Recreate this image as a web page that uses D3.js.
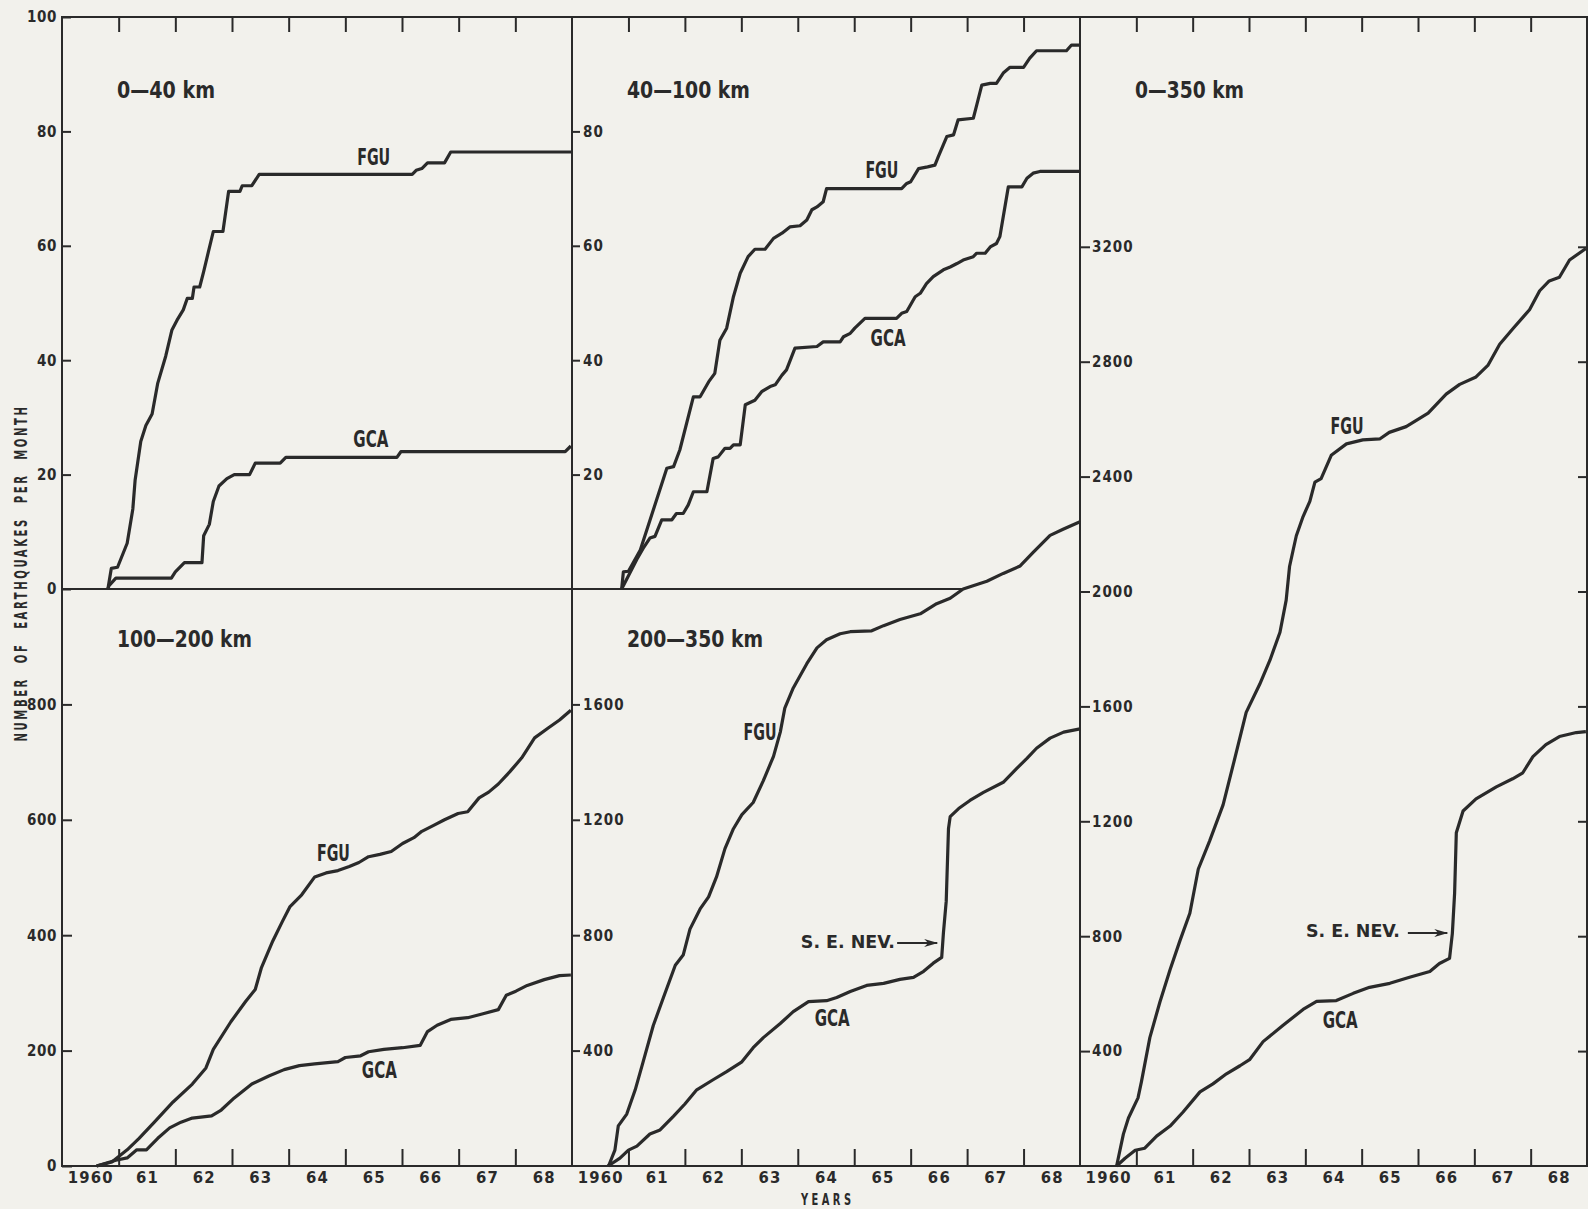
<!DOCTYPE html>
<html>
<head>
<meta charset="utf-8">
<script src="https://cdn.jsdelivr.net/npm/d3@7"></script>
<style>
  body { margin: 0; background: #f2f1ec; }
  svg { display: block; }
  text {
    font-family: 'DejaVu Sans Condensed', 'DejaVu Sans', sans-serif;
    font-weight: bold;
    fill: #2a2a2a;
  }
</style>
</head>
<body>
<div id="chart"></div>
<script>
const width = 1588
const height = 1209

// x-axis (years)
const yearDomain = [1959.5, 1968.5]
const yearTicks = [1960.5, 1961.5, 1962.5, 1963.5, 1964.5, 1965.5, 1966.5, 1967.5]
const yearLabelPos = [1960, 1961, 1962, 1963, 1964, 1965, 1966, 1967, 1968]
const yearLabels = ['1960', '61', '62', '63', '64', '65', '66', '67', '68']

// y tick values for each panel
const ticks0to40 = [0, 20, 40, 60, 80, 100]
const ticks40to100 = [20, 40, 60, 80]
const ticks100to200 = [0, 200, 400, 600, 800]
const ticks200to350 = [400, 800, 1200, 1600]
const ticks0to350 = [400, 800, 1200, 1600, 2000, 2400, 2800, 3200]

// cumulative counts, [year, number]
const fgu0to40 = [[1960.31, 0], [1960.37, 3.6], [1960.48, 3.8], [1960.65, 8], [1960.75, 14], [1960.79, 19], [1960.89, 25.8], [1960.98, 28.6], [1961.09, 30.6], [1961.19, 36], [1961.33, 40.7], [1961.44, 45.3], [1961.53, 47], [1961.64, 48.8], [1961.71, 50.8], [1961.80, 50.8], [1961.83, 52.8], [1961.93, 52.8], [1962.00, 55.5], [1962.08, 58.8], [1962.17, 62.5], [1962.34, 62.5], [1962.44, 69.5], [1962.64, 69.5], [1962.68, 70.5], [1962.85, 70.5], [1962.98, 72.5], [1965.68, 72.5], [1965.75, 73.2], [1965.85, 73.5], [1965.95, 74.5], [1966.25, 74.5], [1966.36, 76.4], [1968.5, 76.4]]
const gca0to40 = [[1960.31, 0], [1960.33, 0.6], [1960.45, 1.9], [1961.43, 1.9], [1961.50, 3], [1961.66, 4.6], [1961.97, 4.6], [1962.00, 9.3], [1962.10, 11.3], [1962.17, 15.3], [1962.27, 18], [1962.41, 19.3], [1962.54, 20], [1962.81, 20], [1962.91, 22], [1963.35, 22], [1963.45, 23], [1965.41, 23], [1965.48, 24], [1968.38, 24], [1968.48, 25]]

const fgu40to100 = [[1960.38, 0], [1960.41, 3], [1960.50, 3.1], [1960.71, 6.8], [1960.94, 13.8], [1961.18, 21.1], [1961.30, 21.4], [1961.41, 24.3], [1961.65, 33.6], [1961.77, 33.6], [1961.92, 36.2], [1962.03, 37.7], [1962.12, 43.5], [1962.24, 45.6], [1962.36, 51.1], [1962.48, 55.2], [1962.62, 58.1], [1962.74, 59.4], [1962.92, 59.4], [1963.07, 61.3], [1963.22, 62.2], [1963.36, 63.3], [1963.54, 63.5], [1963.66, 64.5], [1963.75, 66.3], [1963.84, 66.8], [1963.95, 67.7], [1964.01, 70], [1965.34, 70], [1965.43, 70.9], [1965.50, 71.2], [1965.64, 73.5], [1965.80, 73.8], [1965.93, 74.1], [1965.99, 75.6], [1966.14, 79.1], [1966.26, 79.4], [1966.34, 82], [1966.61, 82.3], [1966.67, 84.6], [1966.76, 88.1], [1966.91, 88.4], [1967.02, 88.4], [1967.14, 90.2], [1967.26, 91.2], [1967.50, 91.2], [1967.61, 92.8], [1967.73, 94.1], [1968.26, 94.1], [1968.35, 95.1], [1968.5, 95.1]]
const gca40to100 = [[1960.38, 0], [1960.65, 5.2], [1960.76, 7.1], [1960.88, 8.9], [1960.97, 9.2], [1961.09, 12.1], [1961.27, 12.1], [1961.35, 13.2], [1961.47, 13.2], [1961.56, 14.7], [1961.65, 17], [1961.89, 17], [1962.00, 22.8], [1962.09, 23.1], [1962.21, 24.6], [1962.30, 24.6], [1962.36, 25.2], [1962.48, 25.2], [1962.57, 32.2], [1962.74, 33], [1962.86, 34.5], [1963.01, 35.4], [1963.10, 35.7], [1963.22, 37.4], [1963.30, 38.3], [1963.45, 42.1], [1963.84, 42.4], [1963.95, 43.2], [1964.25, 43.2], [1964.31, 44.1], [1964.43, 44.7], [1964.51, 45.6], [1964.69, 47.3], [1965.25, 47.3], [1965.34, 48.2], [1965.43, 48.5], [1965.58, 51.1], [1965.67, 51.7], [1965.78, 53.4], [1965.90, 54.6], [1966.08, 55.8], [1966.20, 56.3], [1966.32, 56.9], [1966.43, 57.5], [1966.61, 58.1], [1966.67, 58.7], [1966.82, 58.7], [1966.91, 59.8], [1967.02, 60.4], [1967.08, 61.6], [1967.23, 70.3], [1967.47, 70.3], [1967.56, 71.8], [1967.67, 72.7], [1967.79, 73], [1968.5, 73]]

const fgu100to200 = [[1960.11, 0], [1960.38, 7], [1960.65, 28], [1960.86, 48], [1961.13, 76], [1961.46, 111], [1961.80, 142], [1962.04, 170], [1962.17, 202], [1962.48, 250], [1962.74, 285], [1962.91, 306], [1963.02, 344], [1963.22, 390], [1963.39, 424], [1963.52, 449], [1963.73, 470], [1963.96, 501], [1964.16, 508], [1964.37, 512], [1964.57, 519], [1964.74, 526], [1964.91, 536], [1965.11, 540], [1965.31, 545], [1965.51, 559], [1965.71, 569], [1965.85, 580], [1966.05, 590], [1966.25, 600], [1966.49, 611], [1966.66, 614], [1966.86, 638], [1967.03, 648], [1967.20, 662], [1967.40, 683], [1967.61, 707], [1967.84, 742], [1968.08, 759], [1968.28, 773], [1968.48, 790]]
const gca100to200 = [[1960.11, 0], [1960.45, 10], [1960.65, 14], [1960.82, 28], [1960.99, 28], [1961.19, 48], [1961.40, 66], [1961.60, 76], [1961.80, 83], [1962.14, 87], [1962.31, 97], [1962.54, 118], [1962.85, 142], [1963.15, 156], [1963.42, 167], [1963.69, 174], [1963.96, 177], [1964.37, 181], [1964.50, 188], [1964.77, 191], [1964.91, 198], [1965.18, 202], [1965.51, 205], [1965.82, 209], [1965.95, 233], [1966.12, 244], [1966.36, 254], [1966.66, 257], [1966.93, 264], [1967.20, 271], [1967.34, 296], [1967.51, 303], [1967.71, 313], [1968.01, 323], [1968.28, 330], [1968.48, 331]]

const fgu200to350 = [[1960.14, 0], [1960.16, 6], [1960.26, 55], [1960.32, 139], [1960.47, 180], [1960.62, 264], [1960.76, 361], [1960.94, 487], [1961.12, 584], [1961.33, 696], [1961.47, 731], [1961.59, 821], [1961.77, 891], [1961.92, 933], [1962.06, 1002], [1962.21, 1100], [1962.36, 1169], [1962.51, 1218], [1962.71, 1260], [1962.89, 1336], [1963.07, 1420], [1963.19, 1504], [1963.27, 1587], [1963.42, 1657], [1963.66, 1741], [1963.84, 1796], [1964.01, 1824], [1964.25, 1845], [1964.43, 1852], [1964.81, 1855], [1965.02, 1873], [1965.31, 1894], [1965.67, 1914], [1965.96, 1949], [1966.20, 1968], [1966.43, 2000], [1966.85, 2027], [1967.14, 2054], [1967.44, 2080], [1967.67, 2127], [1967.97, 2186], [1968.20, 2207], [1968.5, 2233]]
const gca200to350 = [[1960.14, 0], [1960.35, 27], [1960.50, 55], [1960.65, 69], [1960.88, 111], [1961.06, 125], [1961.30, 173], [1961.50, 215], [1961.71, 264], [1962.00, 299], [1962.24, 327], [1962.51, 361], [1962.71, 410], [1962.89, 445], [1963.19, 494], [1963.42, 535], [1963.69, 570], [1964.01, 573], [1964.19, 584], [1964.43, 605], [1964.72, 626], [1965.02, 633], [1965.31, 647], [1965.55, 654], [1965.73, 675], [1965.90, 703], [1966.05, 723], [1966.08, 807], [1966.13, 918], [1966.17, 1169], [1966.20, 1211], [1966.35, 1239], [1966.55, 1267], [1966.79, 1295], [1967.14, 1330], [1967.38, 1378], [1967.56, 1413], [1967.73, 1448], [1967.97, 1483], [1968.21, 1504], [1968.5, 1515]]

const fgu0to350 = [[1960.15, 0], [1960.27, 111], [1960.36, 167], [1960.53, 237], [1960.59, 293], [1960.74, 447], [1960.92, 572], [1961.10, 684], [1961.27, 782], [1961.45, 880], [1961.60, 1034], [1961.80, 1131], [1962.04, 1257], [1962.22, 1397], [1962.45, 1579], [1962.69, 1677], [1962.87, 1760], [1963.05, 1858], [1963.16, 1970], [1963.22, 2087], [1963.28, 2141], [1963.34, 2194], [1963.46, 2261], [1963.58, 2314], [1963.67, 2381], [1963.78, 2393], [1963.96, 2474], [1964.23, 2514], [1964.52, 2528], [1964.82, 2531], [1964.99, 2554], [1965.29, 2574], [1965.68, 2621], [1966.00, 2687], [1966.24, 2721], [1966.53, 2747], [1966.74, 2787], [1966.95, 2861], [1967.18, 2914], [1967.48, 2981], [1967.66, 3047], [1967.83, 3081], [1968.01, 3094], [1968.19, 3154], [1968.48, 3194]]
const gca0to350 = [[1960.15, 0], [1960.30, 27], [1960.48, 55], [1960.65, 62], [1960.86, 104], [1961.10, 139], [1961.33, 188], [1961.63, 258], [1961.86, 286], [1962.10, 321], [1962.34, 349], [1962.51, 370], [1962.75, 433], [1963.10, 489], [1963.46, 545], [1963.70, 573], [1964.05, 576], [1964.35, 601], [1964.64, 622], [1965.00, 636], [1965.35, 657], [1965.71, 677], [1965.88, 705], [1966.06, 723], [1966.11, 810], [1966.15, 950], [1966.18, 1160], [1966.30, 1236], [1966.53, 1278], [1966.89, 1320], [1967.18, 1348], [1967.36, 1369], [1967.54, 1425], [1967.77, 1467], [1968.01, 1495], [1968.31, 1509], [1968.48, 1512]]

// ---- layout ----
const colX = [62, 572, 1080, 1587]
const rowY = [17, 589, 1166]
const ink = '#2a2a2a'

const svg = d3
  .select('#chart')
  .append('svg')
  .attr('width', width)
  .attr('height', height)

svg.append('rect').attr('width', width).attr('height', height).attr('fill', '#f2f1ec')

svg
  .append('defs')
  .append('marker')
  .attr('id', 'arrow')
  .attr('viewBox', '0 0 14 8')
  .attr('refX', 13)
  .attr('refY', 4)
  .attr('markerWidth', 14)
  .attr('markerHeight', 8)
  .attr('markerUnits', 'userSpaceOnUse')
  .attr('orient', 'auto')
  .append('path')
  .attr('d', 'M0,0 L14,4 L0,8 L4,4 Z')
  .attr('fill', ink)

// the lettering of the original is tall and narrow, so labels get a fixed length
function label(sel, x, y, str, size, len, anchor = 'start') {
  return sel.append('text')
    .attr('x', x)
    .attr('y', y)
    .attr('font-size', size)
    .attr('text-anchor', anchor)
    .attr('textLength', len)
    .attr('lengthAdjust', 'spacingAndGlyphs')
    .text(str)
}

const panels = [
  { title: '0—40 km', titleLen: 98, col: 0, top: rowY[0], bottom: rowY[1], max: 100, fgu: fgu0to40, gca: gca0to40,
    fguLabel: [1965.0, 74.1], gcaLabel: [1964.95, 24.8] },
  { title: '40—100 km', titleLen: 123, col: 1, top: rowY[0], bottom: rowY[1], max: 100, fgu: fgu40to100, gca: gca40to100,
    fguLabel: [1964.99, 71.9], gcaLabel: [1965.1, 42.5] },
  { title: '0—350 km', titleLen: 109, col: 2, top: rowY[0], bottom: rowY[2], max: 4000, fgu: fgu0to350, gca: gca0to350,
    fguLabel: [1964.24, 2548], gcaLabel: [1964.12, 480], nev: { text: [1965.18, 797], from: [1965.32, 811], to: [1966.02, 811] } },
  { title: '100—200 km', titleLen: 135, col: 0, top: rowY[1], bottom: rowY[2], max: 1000, fgu: fgu100to200, gca: gca100to200,
    fguLabel: [1964.29, 529], gcaLabel: [1965.1, 152] },
  { title: '200—350 km', titleLen: 136, col: 1, top: rowY[1], bottom: rowY[2], max: 2000, fgu: fgu200to350, gca: gca200to350,
    fguLabel: [1962.83, 1477], gcaLabel: [1964.11, 485], nev: { text: [1965.22, 756], from: [1965.26, 773], to: [1965.97, 773] } }
]

panels.forEach(p => {
  p.x = d3.scaleLinear().domain(yearDomain).range([colX[p.col], colX[p.col + 1]])
  p.y = d3.scaleLinear().domain([0, p.max]).range([p.bottom, p.top])
})

function styleAxis(g, size, spacing) {
  g.attr('font-size', size).attr('color', ink)
  g.select('.domain').remove()
  g.selectAll('line').attr('stroke-width', 2)
  g.selectAll('text').attr('letter-spacing', spacing)
}

const fmt = d3.format('d')
const [pTL, pTM, pR, pBL, pBM] = panels

// y axes
svg.append('g')
  .attr('transform', `translate(${colX[0]},0)`)
  .call(d3.axisLeft(pTL.y).tickValues(ticks0to40).tickSize(-9).tickPadding(5).tickFormat(fmt))
  .call(g => styleAxis(g, 15, 0.6))

svg.append('g')
  .attr('transform', `translate(${colX[0]},0)`)
  .call(d3.axisLeft(pBL.y).tickValues(ticks100to200).tickSize(-10).tickPadding(5).tickFormat(fmt))
  .call(g => styleAxis(g, 15, 0.6))

svg.append('g')
  .attr('transform', `translate(${colX[1]},0)`)
  .call(d3.axisRight(pTM.y).tickValues(ticks40to100).tickSize(8).tickPadding(3).tickFormat(fmt))
  .call(g => styleAxis(g, 15, 1))

svg.append('g')
  .attr('transform', `translate(${colX[1]},0)`)
  .call(d3.axisRight(pBM.y).tickValues(ticks200to350).tickSize(8).tickPadding(3).tickFormat(fmt))
  .call(g => styleAxis(g, 15, 1))

svg.append('g')
  .attr('transform', `translate(${colX[2]},0)`)
  .call(d3.axisRight(pR.y).tickValues(ticks0to350).tickSize(10).tickPadding(2).tickFormat(fmt))
  .call(g => styleAxis(g, 15, 1))

svg.append('g')
  .attr('transform', `translate(${colX[3]},0)`)
  .call(d3.axisLeft(pR.y).tickValues(ticks0to350).tickSize(9).tickFormat(''))
  .call(g => styleAxis(g, 15, 0))

// x axes, one per column
for (let c = 0; c < 3; c++) {
  const x = d3.scaleLinear().domain(yearDomain).range([colX[c], colX[c + 1]])

  svg.append('g')
    .attr('transform', `translate(0,${rowY[2]})`)
    .call(d3.axisTop(x).tickValues(yearTicks).tickSize(17).tickFormat(''))
    .call(g => styleAxis(g, 16, 0))

  svg.append('g')
    .attr('transform', `translate(0,${rowY[0]})`)
    .call(d3.axisBottom(x).tickValues(yearTicks).tickSize(15).tickFormat(''))
    .call(g => styleAxis(g, 16, 0))

  svg.append('g')
    .attr('transform', `translate(0,${rowY[2]})`)
    .call(d3.axisBottom(x).tickValues(yearLabelPos).tickSize(0).tickPadding(5)
      .tickFormat((d, i) => yearLabels[i]))
    .call(g => styleAxis(g, 16.5, 1.2))
}

// frame lines
const frame = svg.append('g').attr('stroke', ink).attr('stroke-width', 2).attr('fill', 'none')
frame.append('rect')
  .attr('x', colX[0]).attr('y', rowY[0])
  .attr('width', colX[3] - colX[0]).attr('height', rowY[2] - rowY[0])
frame.append('line').attr('x1', colX[1]).attr('x2', colX[1]).attr('y1', rowY[0]).attr('y2', rowY[2])
frame.append('line').attr('x1', colX[2]).attr('x2', colX[2]).attr('y1', rowY[0]).attr('y2', rowY[2])
frame.append('line').attr('x1', colX[0]).attr('x2', colX[1]).attr('y1', rowY[1]).attr('y2', rowY[1])

// baseline of the 40-100 km panel stops where the 200-350 km curve climbs through it
const iCross = fgu200to350.findIndex(d => d[1] >= pBM.max)
const a = fgu200to350[iCross - 1]
const b = fgu200to350[iCross]
const crossYear = a[0] + (b[0] - a[0]) * (pBM.max - a[1]) / (b[1] - a[1])
frame.append('line')
  .attr('x1', colX[1]).attr('x2', pBM.x(crossYear))
  .attr('y1', rowY[1]).attr('y2', rowY[1])

// curves and labels
panels.forEach(p => {
  const line = d3.line().x(d => p.x(d[0])).y(d => p.y(d[1]))
  const g = svg.append('g')

  ;[p.fgu, p.gca].forEach(series => {
    g.append('path')
      .datum(series)
      .attr('d', line)
      .attr('fill', 'none')
      .attr('stroke', ink)
      .attr('stroke-width', 3.2)
      .attr('stroke-linejoin', 'round')
  })

  label(g, colX[p.col] + 55, p.top + (p.top === rowY[0] ? 81 : 58), p.title, 23.5, p.titleLen)
  label(g, p.x(p.fguLabel[0]), p.y(p.fguLabel[1]), 'FGU', 23, 33, 'middle')
  label(g, p.x(p.gcaLabel[0]), p.y(p.gcaLabel[1]), 'GCA', 23, 35, 'middle')

  if (p.nev) {
    label(g, p.x(p.nev.text[0]), p.y(p.nev.text[1]), 'S.  E.  NEV.', 18, 94, 'end')
    g.append('line')
      .attr('x1', p.x(p.nev.from[0]))
      .attr('x2', p.x(p.nev.to[0]))
      .attr('y1', p.y(p.nev.from[1]))
      .attr('y2', p.y(p.nev.to[1]))
      .attr('stroke', ink)
      .attr('stroke-width', 2)
      .attr('marker-end', 'url(#arrow)')
  }
})

// axis titles
svg.append('text')
  .attr('transform', `translate(26.5,573) rotate(-90)`)
  .attr('text-anchor', 'middle')
  .attr('font-size', 17.5)
  .attr('letter-spacing', 4)
  .attr('word-spacing', 12)
  .attr('textLength', 337)
  .attr('lengthAdjust', 'spacingAndGlyphs')
  .text('NUMBER OF EARTHQUAKES PER MONTH')

label(svg, (colX[1] + colX[2]) / 2, 1205, 'Y E A R S', 16.5, 50, 'middle')
</script>
</body>
</html>
